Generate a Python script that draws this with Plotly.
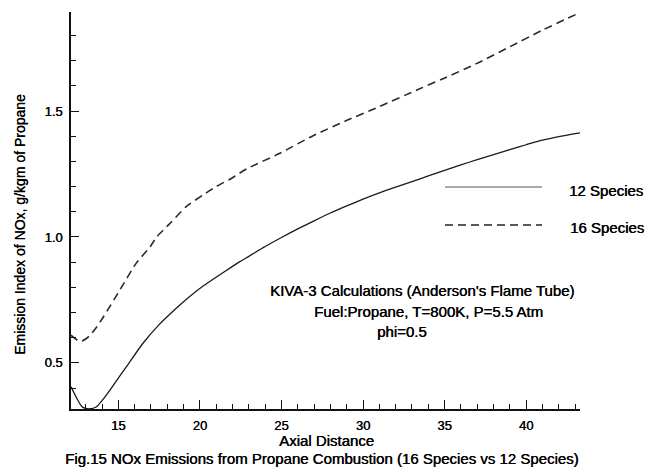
import plotly.graph_objects as go

# Axial distance / emission index samples for the two mechanisms
x_12 = [12.1, 12.45, 12.76, 13.0, 13.27, 13.5, 13.7, 14.0, 14.5, 15.0, 15.5, 16.5,
        17.5, 18.5, 19.0, 20.2, 21.6, 22.45, 23.0, 24.0, 25.0, 26.0, 27.0, 28.0,
        29.0, 30.0, 31.0, 32.0, 33.0, 34.0, 35.0, 36.0, 37.0, 38.0, 39.0, 40.0,
        41.0, 42.0, 43.3]
y_12 = [0.405, 0.36, 0.327, 0.319, 0.318, 0.321, 0.328, 0.350, 0.393, 0.440, 0.485,
        0.577, 0.652, 0.714, 0.743, 0.805, 0.866, 0.902, 0.923, 0.962, 0.998, 1.032,
        1.064, 1.095, 1.123, 1.150, 1.175, 1.198, 1.220, 1.242, 1.264, 1.286, 1.307,
        1.327, 1.347, 1.366, 1.384, 1.398, 1.413]

x_16 = [12.1, 12.5, 12.75, 13.0, 13.27, 13.7, 14.1, 15.1, 16.1, 16.94, 17.35, 18.17,
        19.19, 20.2, 21.0, 22.0, 22.86, 24.9, 26.94, 28.98, 31.02, 33.47, 34.9,
        36.95, 39.0, 41.0, 43.17]
y_16 = [0.61, 0.59, 0.587, 0.595, 0.61, 0.645, 0.684, 0.79, 0.896, 0.96, 1.0, 1.054,
        1.122, 1.167, 1.2, 1.235, 1.27, 1.332, 1.402, 1.462, 1.518, 1.588, 1.628,
        1.688, 1.755, 1.821, 1.887]

x_ticks = [15, 20, 25, 30, 35, 40]
y_ticks = [0.5, 1.0, 1.5]
y_tick_text = ["0.5", "1.0", "1.5"]

series_names = ["12 Species", "16 Species"]

W, H = 646, 467
L, R, T, B = 71, 580, 12, 409
FONT = "Liberation Sans, Arial, Helvetica, sans-serif"
INK = "#000000"
HEAVY = "0.4px 0px 0px #000000"


def px(xp):
    return (xp - L) / (R - L)


def py(yp):
    return (B - yp) / (B - T)


def font(size):
    return dict(family=FONT, size=size, color=INK, shadow=HEAVY)


fig = go.Figure()
fig.add_trace(go.Scatter(x=x_12, y=y_12, mode="lines", name=series_names[0],
                         line=dict(color="#1a1a1a", width=1.3, shape="spline", smoothing=0.6)))
fig.add_trace(go.Scatter(x=x_16, y=y_16, mode="lines", name=series_names[1],
                         line=dict(color="#2a2a2a", width=1.6, dash="8px,5px",
                                   shape="spline", smoothing=0.6)))

# hand-drawn key with long line samples
fig.add_shape(type="line", xref="paper", yref="paper", x0=px(445), x1=px(542),
              y0=py(187), y1=py(187), line=dict(color="#555555", width=1.2))
fig.add_shape(type="line", xref="paper", yref="paper", x0=px(445), x1=px(542),
              y0=py(225), y1=py(225), line=dict(color="#222222", width=1.6, dash="8px,5px"))

annotations = [
    dict(text=series_names[0], x=px(567), y=py(190), xanchor="left", size=15),
    dict(text=series_names[1], x=px(568), y=py(228), xanchor="left", size=15),
    dict(text="KIVA-3 Calculations (Anderson's Flame Tube)", x=px(268), y=py(290),
         xanchor="left", size=15),
    dict(text="Fuel:Propane, T=800K, P=5.5 Atm", x=px(312), y=py(311),
         xanchor="left", size=15),
    dict(text="phi=0.5", x=px(375), y=py(331), xanchor="left", size=15),
    dict(text="Axial Distance", x=px(326), y=py(440), xanchor="center", size=15),
    dict(text="Fig.15 NOx Emissions from Propane Combustion (16 Species vs 12 Species)",
         x=px(322), y=py(458), xanchor="center", size=15),
]
for a in annotations:
    fig.add_annotation(text=a["text"], xref="paper", yref="paper", x=a["x"], y=a["y"],
                       xanchor=a["xanchor"], yanchor="middle", showarrow=False,
                       font=font(a["size"]))

fig.add_annotation(text="Emission Index of NOx, g/kgm of Propane", xref="paper", yref="paper",
                   x=px(20), y=py(225), textangle=-90, showarrow=False,
                   xanchor="center", yanchor="middle", font=font(14))

fig.update_layout(
    width=W, height=H,
    margin=dict(l=L, r=W - R, t=T, b=H - B, pad=0),
    paper_bgcolor="white", plot_bgcolor="white",
    showlegend=False,
    font=dict(family=FONT, size=13, color=INK),
    xaxis=dict(range=[12.1, 43.3], showgrid=False, zeroline=False,
               showline=True, linecolor="#111111", linewidth=1.6,
               ticks="inside", tickvals=x_ticks, ticklen=9, tickwidth=1.2, tickcolor="#111111",
               minor=dict(dtick=1, ticks="inside", ticklen=5, tickwidth=1, tickcolor="#111111"),
               tickfont=font(13), ticklabelstandoff=4),
    yaxis=dict(range=[0.317, 1.893], showgrid=False, zeroline=False,
               showline=True, linecolor="#111111", linewidth=1.6,
               ticks="inside", tickvals=y_ticks, ticktext=y_tick_text, ticklen=8,
               tickwidth=1.2, tickcolor="#111111",
               minor=dict(dtick=0.1, tick0=0, ticks="inside", ticklen=5, tickwidth=1,
                          tickcolor="#111111"),
               tickfont=font(13), ticklabelstandoff=4),
)

fig.write_html("out.html")
